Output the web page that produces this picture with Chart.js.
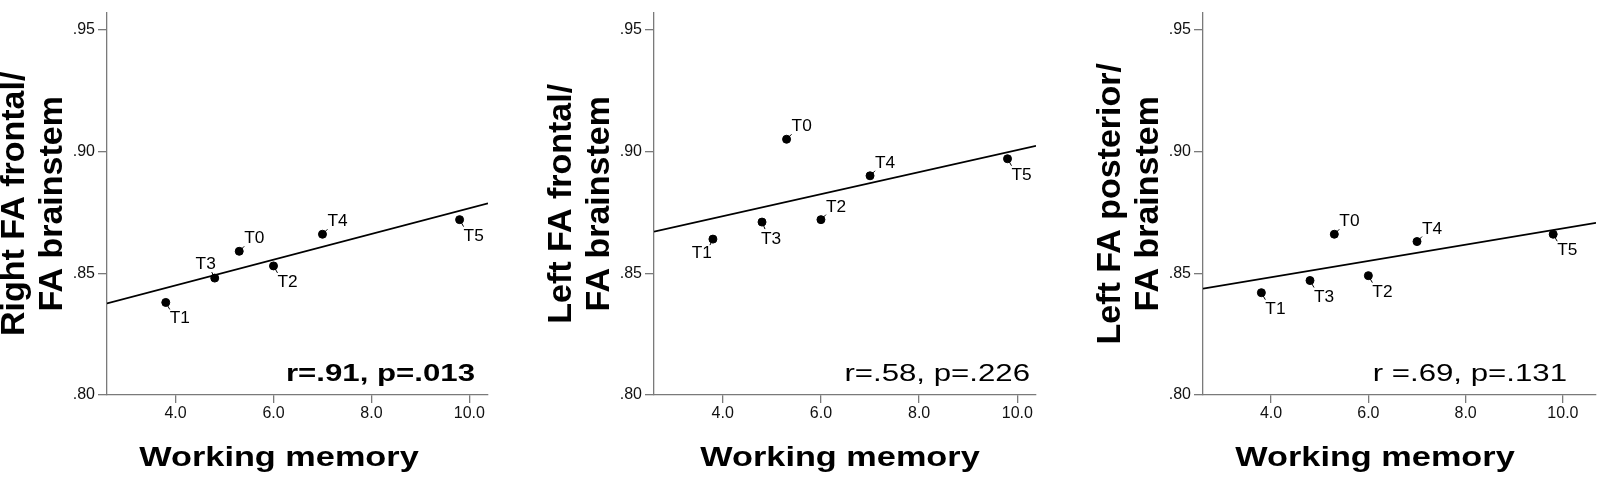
<!DOCTYPE html>
<html>
<head>
<meta charset="utf-8">
<script src="https://cdn.jsdelivr.net/npm/chart.js@4.4.1/dist/chart.umd.min.js"></script>
<style>
  body { margin: 0; background: #fff; width: 1601px; height: 480px; overflow: hidden; position: relative; }
  canvas { position: absolute; top: 0; }
</style>
</head>
<body>
<canvas id="panel1" width="530" height="480" style="left:0px"></canvas>
<canvas id="panel2" width="530" height="480" style="left:530px"></canvas>
<canvas id="panel3" width="541" height="480" style="left:1060px"></canvas>
<script>
// values
const timePoints = ['T0', 'T1', 'T2', 'T3', 'T4', 'T5'];
const workingMemory = [5.3, 3.8, 6.0, 4.8, 7.0, 9.8];
const rightFrontalFA = [0.859, 0.838, 0.853, 0.848, 0.866, 0.872];
const leftFrontalFA = [0.905, 0.864, 0.872, 0.871, 0.890, 0.897];
const leftPosteriorFA = [0.866, 0.842, 0.849, 0.847, 0.863, 0.866];

// fit line ends (y at x axis min / max)
const fitRightFrontal = [0.8376, 0.8787];
const fitLeftFrontal = [0.8671, 0.9023];
const fitLeftPosterior = [0.8437, 0.8707];

const yTickValues = [0.80, 0.85, 0.90, 0.95];
const xTickValues = [4, 6, 8, 10];

const FONT = "'Liberation Sans', Arial, sans-serif";

const panels = [
  {
    id: 'panel1', values: rightFrontalFA, fit: fitRightFrontal,
    yTitle: ['Right FA frontal/', 'FA brainstem'],
    stats: 'r=.91, p=.013', statsBold: true,
    xMax: 10.38, axisWidth: 107, padRight: 42, xTitleDx: 172, statsDx: -13,
    place: ['ur', 'dr', 'dr', 'ul', 'ur', 'dr']
  },
  {
    id: 'panel2', values: leftFrontalFA, fit: fitLeftFrontal,
    yTitle: ['Left FA frontal/', 'FA brainstem'],
    stats: 'r=.58, p=.226', statsBold: false,
    xMax: 10.38, axisWidth: 124, padRight: 24, xTitleDx: 186, statsDx: -6,
    place: ['ur', 'dl', 'ur', 'd', 'ur', 'dr']
  },
  {
    id: 'panel3', values: leftPosteriorFA, fit: fitLeftPosterior,
    yTitle: ['Left FA posterior/', 'FA brainstem'],
    stats: 'r =.69, p=.131', statsBold: false,
    xMax: 10.68, axisWidth: 143, padRight: 0, xTitleDx: 172, statsDx: -29,
    place: ['ur', 'dr', 'dr', 'dr', 'ur', 'dr']
  }
];

function stretchedText(ctx, text, x, y, font, align, sx) {
  ctx.save();
  ctx.font = font;
  ctx.fillStyle = '#000';
  ctx.translate(x, y);
  ctx.scale(sx, 1);
  ctx.textAlign = align;
  ctx.textBaseline = 'alphabetic';
  ctx.fillText(text, 0, 0);
  ctx.restore();
}

const panelText = {
  id: 'panelText',
  afterDraw(chart) {
    const p = chart.options.plugins.panelText;
    const ctx = chart.ctx;
    const area = chart.chartArea;
    const xs = chart.scales.x, ys = chart.scales.y;
    const midY = (area.top + area.bottom) / 2;

    // y title, two rotated lines
    p.yTitle.forEach((line, i) => {
      ctx.save();
      ctx.font = 'bold 34px ' + FONT;
      ctx.fillStyle = '#000';
      ctx.translate(area.left - (i === 0 ? 83 : 45), midY);
      ctx.rotate(-Math.PI / 2);
      ctx.textAlign = 'center';
      ctx.textBaseline = 'alphabetic';
      ctx.fillText(line, 0, 0);
      ctx.restore();
    });

    // x title
    stretchedText(ctx, 'Working memory', area.left + p.xTitleDx, 466, 'bold 27px ' + FONT, 'center', 1.27);

    // correlation text
    stretchedText(ctx, p.stats, area.right + p.statsDx, 381,
      (p.statsBold ? 'bold ' : '') + '24px ' + FONT, 'right', 1.3);

    // point labels with short leader ticks
    ctx.save();
    ctx.strokeStyle = '#000';
    ctx.lineWidth = 1;
    timePoints.forEach((lab, i) => {
      const px = xs.getPixelForValue(workingMemory[i]);
      const py = ys.getPixelForValue(p.values[i]);
      let tx, ty, lx, ly, align;
      switch (p.place[i]) {
        case 'ur': tx = px + 5; ty = py - 8; lx = px + 5; ly = py - 5; align = 'left'; break;
        case 'ul': tx = px + 1; ty = py - 9; lx = px - 3; ly = py - 6; align = 'right'; break;
        case 'dl': tx = px - 1; ty = py + 19; lx = px - 3; ly = py + 6; align = 'right'; break;
        case 'd':  tx = px - 1; ty = py + 22; lx = px + 3; ly = py + 7; align = 'left'; break;
        default:   tx = px + 4; ty = py + 21; lx = px + 4; ly = py + 7; align = 'left';
      }
      ctx.beginPath();
      ctx.moveTo(px, py);
      ctx.lineTo(lx, ly);
      ctx.stroke();
      stretchedText(ctx, lab, tx, ty, '16px ' + FONT, align, 1.08);
    });
    ctx.restore();
  }
};

panels.forEach(p => {
  const xMin = 2.6;
  new Chart(document.getElementById(p.id), {
    type: 'scatter',
    data: {
      datasets: [
        {
          data: workingMemory.map((x, i) => ({ x: x, y: p.values[i] })),
          backgroundColor: '#000',
          borderColor: '#000',
          pointRadius: 4,
          order: 0
        },
        {
          data: [{ x: xMin, y: p.fit[0] }, { x: p.xMax, y: p.fit[1] }],
          showLine: true,
          borderColor: '#000',
          borderWidth: 1.8,
          pointRadius: 0,
          order: 1
        }
      ]
    },
    options: {
      responsive: false,
      animation: false,
      devicePixelRatio: 1,
      layout: { padding: { top: 2, right: p.padRight, bottom: 0, left: 0 } },
      plugins: {
        legend: { display: false },
        tooltip: { enabled: false },
        panelText: p
      },
      scales: {
        x: {
          type: 'linear',
          min: xMin,
          max: p.xMax,
          afterBuildTicks: s => { s.ticks = xTickValues.map(v => ({ value: v })); },
          afterFit: s => { s.height = 85; },
          ticks: {
            callback: v => v.toFixed(1),
            font: { family: FONT, size: 16 },
            color: '#111',
            padding: 1,
            maxRotation: 0
          },
          grid: { drawOnChartArea: false, tickLength: 8, color: '#7a7a7a', lineWidth: 1.3 },
          border: { color: '#7a7a7a', width: 1.3 }
        },
        y: {
          min: 0.80,
          max: 0.957,
          afterBuildTicks: s => { s.ticks = yTickValues.map(v => ({ value: v })); },
          afterFit: s => { s.width = p.axisWidth; },
          ticks: {
            callback: v => v.toFixed(2).replace(/^0/, ''),
            font: { family: FONT, size: 16 },
            color: '#111',
            padding: 3
          },
          grid: { drawOnChartArea: false, tickLength: 9, color: '#7a7a7a', lineWidth: 1.3 },
          border: { color: '#7a7a7a', width: 1.3 }
        }
      }
    },
    plugins: [panelText]
  });
});
</script>
</body>
</html>
